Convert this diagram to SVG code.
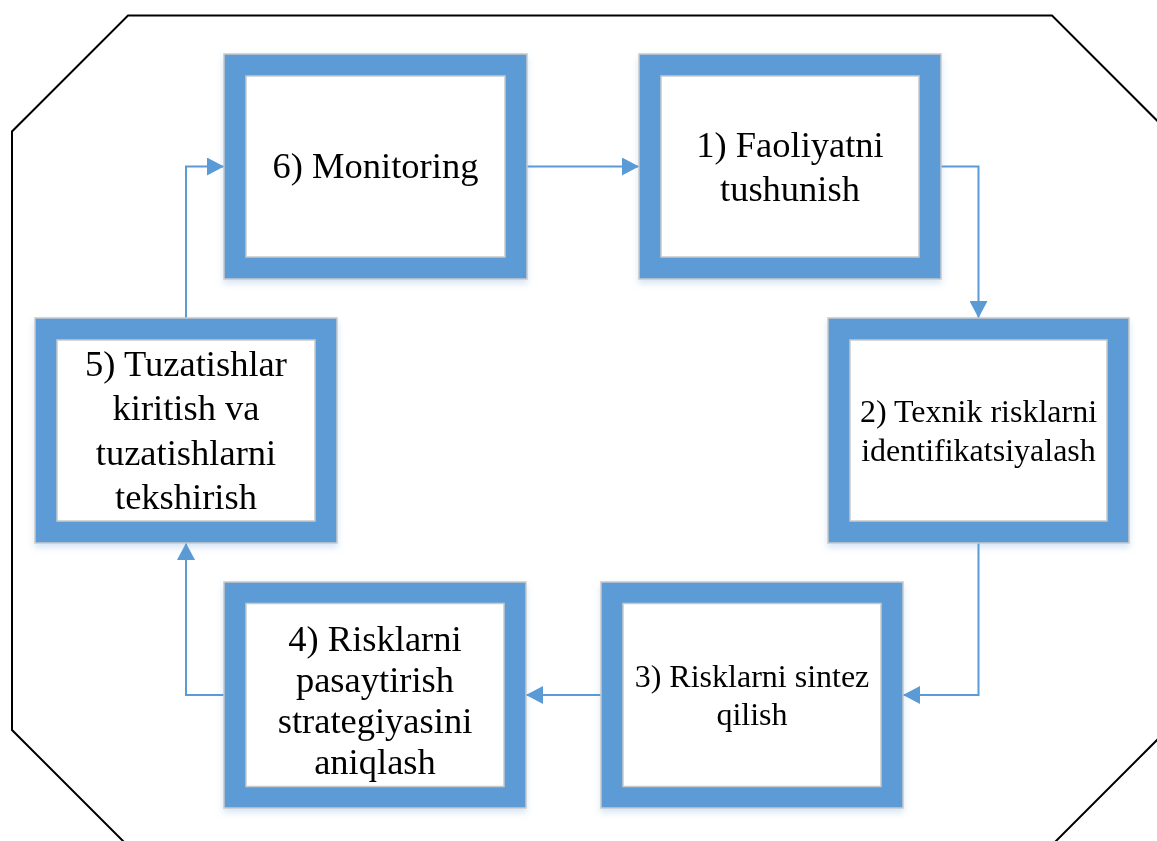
<svg xmlns="http://www.w3.org/2000/svg" width="1157" height="841" viewBox="0 0 1157 841">
<style>
.outer{fill:#5B9BD5;stroke:#C9C9C9;stroke-width:1.5}
.inner{fill:#FFFFFF;stroke:#C9C9C9;stroke-width:1.5}
.t{font-family:"Liberation Serif","Times New Roman",serif;fill:#000;text-anchor:middle}
.big{font-size:36.5px}
.small{font-size:32px}
.conn{fill:none;stroke:#5B9BD5;stroke-width:2}
</style>
<defs>
<filter id="sh" x="-10%" y="-10%" width="120%" height="125%">
<feDropShadow dx="0" dy="4" stdDeviation="3" flood-color="#5B9BD5" flood-opacity="0.25"/>
</filter>
<marker id="arr" markerUnits="userSpaceOnUse" markerWidth="18" markerHeight="18" refX="17" refY="9" orient="auto">
<path d="M0,0 L17,9 L0,18 Z" fill="#5B9BD5"/>
</marker>
</defs>
<rect width="1157" height="841" fill="#FFFFFF"/>
<polygon points="128,15.5 1052,15.5 1197,160.5 1197,700 1037,860 142,860 12,730 12,131.5" fill="none" stroke="#000" stroke-width="2"/>
<g id="connectors">
<path class="conn" d="M527,166.5 H639" marker-end="url(#arr)"/>
<path class="conn" d="M941,166.5 H978.5 V318" marker-end="url(#arr)"/>
<path class="conn" d="M978.5,543 V695 H903" marker-end="url(#arr)"/>
<path class="conn" d="M601,695 H526" marker-end="url(#arr)"/>
<path class="conn" d="M224,695 H186 V543" marker-end="url(#arr)"/>
<path class="conn" d="M186,318 V166.5 H224" marker-end="url(#arr)"/>
</g>
<g id="node6" filter="url(#sh)">
<rect class="outer" x="224" y="54" width="303" height="225"/>
<rect class="inner" x="246" y="76" width="259" height="181"/>
<text class="t big" x="375.5" y="178">6) Monitoring</text>
</g>
<g id="node1" filter="url(#sh)">
<rect class="outer" x="639" y="54" width="302" height="225"/>
<rect class="inner" x="661" y="76" width="258" height="181"/>
<text class="t big" x="790" y="157">1) Faoliyatni</text>
<text class="t big" x="790" y="201">tushunish</text>
</g>
<g id="node2" filter="url(#sh)">
<rect class="outer" x="828" y="318" width="301" height="225"/>
<rect class="inner" x="850" y="340" width="257" height="181"/>
<text class="t small" x="978.5" y="422">2) Texnik risklarni</text>
<text class="t small" x="978.5" y="461">identifikatsiyalash</text>
</g>
<g id="node3" filter="url(#sh)">
<rect class="outer" x="601" y="582" width="302" height="226"/>
<rect class="inner" x="623" y="603.5" width="258" height="183"/>
<text class="t small" x="752" y="687">3) Risklarni sintez</text>
<text class="t small" x="752" y="725">qilish</text>
</g>
<g id="node4" filter="url(#sh)">
<rect class="outer" x="224" y="582" width="302" height="226"/>
<rect class="inner" x="246" y="603.5" width="258" height="183"/>
<text class="t big" x="375" y="651">4) Risklarni</text>
<text class="t big" x="375" y="692">pasaytirish</text>
<text class="t big" x="375" y="733">strategiyasini</text>
<text class="t big" x="375" y="774">aniqlash</text>
</g>
<g id="node5" filter="url(#sh)">
<rect class="outer" x="35" y="318" width="302" height="225"/>
<rect class="inner" x="57" y="340" width="258" height="181"/>
<text class="t big" x="186" y="376">5) Tuzatishlar</text>
<text class="t big" x="186" y="420">kiritish va</text>
<text class="t big" x="186" y="464.5">tuzatishlarni</text>
<text class="t big" x="186" y="509">tekshirish</text>
</g>
</svg>
